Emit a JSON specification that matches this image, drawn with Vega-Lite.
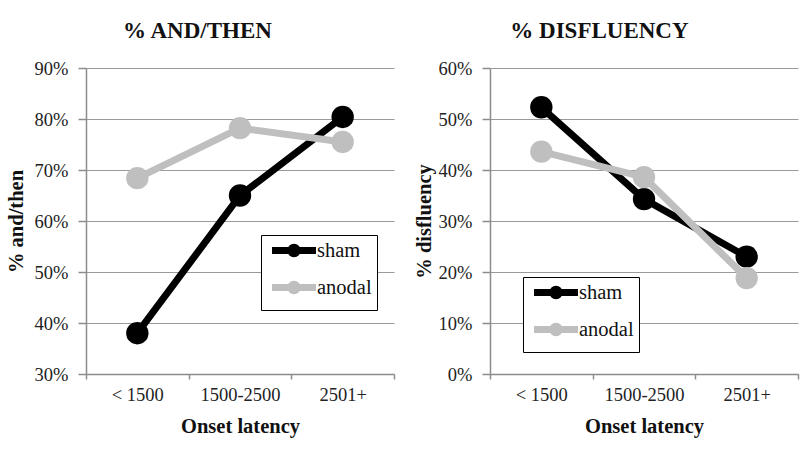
{
  "$schema": "https://vega.github.io/schema/vega-lite/v6.json",
  "background": "white",
  "padding": {"left": 6, "top": 20, "right": 4, "bottom": 4},
  "spacing": 19,
  "config": {
    "font": "Liberation Serif",
    "view": {"stroke": null},
    "axis": {
      "labelFont": "Liberation Serif",
      "labelFontSize": 18.5,
      "labelColor": "#222",
      "titleFont": "Liberation Serif",
      "titleFontSize": 20.5,
      "titleFontWeight": "bold",
      "titleColor": "#111",
      "domainColor": "#8c8c8c",
      "tickColor": "#8c8c8c",
      "gridColor": "#9a9a9a",
      "domainWidth": 1.5,
      "tickWidth": 1.5,
      "gridWidth": 1.2,
      "tickSize": 8
    },
    "title": {"font": "Liberation Serif", "fontSize": 23, "fontWeight": "bold", "color": "#111", "frame": "bounds", "anchor": "middle", "offset": 16},
    "legend": {
      "labelFont": "Liberation Serif",
      "labelFontSize": 20.5,
      "labelColor": "#111",
      "strokeColor": "black",
      "fillColor": "white",
      "padding": 5,
      "symbolType": "M-3.14,0H3.14M-0.47,0A0.47,0.47,0,1,1,0.47,0A0.47,0.47,0,1,1,-0.47,0Z",
      "symbolSize": 196,
      "symbolStrokeWidth": 7,
      "symbolOffset": 17.5,
      "labelOffset": 12.5,
      "rowPadding": 2,
      "title": null
    }
  },
  "datasets": {
    "andthen": [
      {"latency": "< 1500", "condition": "sham", "value": 0.380},
      {"latency": "1500-2500", "condition": "sham", "value": 0.650},
      {"latency": "2501+", "condition": "sham", "value": 0.804},
      {"latency": "< 1500", "condition": "anodal", "value": 0.684},
      {"latency": "1500-2500", "condition": "anodal", "value": 0.782},
      {"latency": "2501+", "condition": "anodal", "value": 0.755}
    ],
    "disfluency": [
      {"latency": "< 1500", "condition": "sham", "value": 0.523},
      {"latency": "1500-2500", "condition": "sham", "value": 0.343},
      {"latency": "2501+", "condition": "sham", "value": 0.230},
      {"latency": "< 1500", "condition": "anodal", "value": 0.436},
      {"latency": "1500-2500", "condition": "anodal", "value": 0.386},
      {"latency": "2501+", "condition": "anodal", "value": 0.188}
    ]
  },
  "hconcat": [
    {
      "title": {"text": "% AND/THEN", "dx": -3},
      "width": 308,
      "height": 306,
      "data": {"name": "andthen"},
      "encoding": {
        "x": {
          "field": "latency", "type": "ordinal",
          "sort": ["< 1500", "1500-2500", "2501+"],
          "scale": {"type": "band", "paddingInner": 0, "paddingOuter": 0},
          "axis": {"title": "Onset latency", "labelAngle": 0, "tickBand": "extent", "tickSize": 5, "labelPadding": 6, "titlePadding": 13, "grid": false}
        },
        "y": {
          "field": "value", "type": "quantitative",
          "scale": {"domain": [0.3, 0.9], "nice": false, "zero": false},
          "axis": {"title": "% and/then", "format": ".0%", "values": [0.3, 0.4, 0.5, 0.6, 0.7, 0.8, 0.9], "labelPadding": 10, "titlePadding": 8, "grid": true}
        },
        "color": {
          "field": "condition", "type": "nominal",
          "scale": {"domain": ["sham", "anodal"], "range": ["#000000", "#bfbfbf"]},
          "legend": {"orient": "none", "legendX": 175, "legendY": 167}
        }
      },
      "layer": [
        {"mark": {"type": "line", "strokeWidth": 7}},
        {"mark": {"type": "circle", "size": 500, "opacity": 1}}
      ]
    },
    {
      "title": {"text": "% DISFLUENCY", "dx": -7},
      "width": 308,
      "height": 306,
      "data": {"name": "disfluency"},
      "encoding": {
        "x": {
          "field": "latency", "type": "ordinal",
          "sort": ["< 1500", "1500-2500", "2501+"],
          "scale": {"type": "band", "paddingInner": 0, "paddingOuter": 0},
          "axis": {"title": "Onset latency", "labelAngle": 0, "tickBand": "extent", "tickSize": 5, "labelPadding": 6, "titlePadding": 13, "grid": false}
        },
        "y": {
          "field": "value", "type": "quantitative",
          "scale": {"domain": [0, 0.6], "nice": false},
          "axis": {"title": "% disfluency", "format": ".0%", "values": [0, 0.1, 0.2, 0.3, 0.4, 0.5, 0.6], "labelPadding": 10, "titlePadding": 4, "grid": true}
        },
        "color": {
          "field": "condition", "type": "nominal",
          "scale": {"domain": ["sham", "anodal"], "range": ["#000000", "#bfbfbf"]},
          "legend": {"orient": "none", "legendX": 33, "legendY": 209}
        }
      },
      "layer": [
        {"mark": {"type": "line", "strokeWidth": 7}},
        {"mark": {"type": "circle", "size": 500, "opacity": 1}}
      ]
    }
  ],
  "resolve": {"legend": {"color": "independent"}, "scale": {"color": "independent"}}
}
